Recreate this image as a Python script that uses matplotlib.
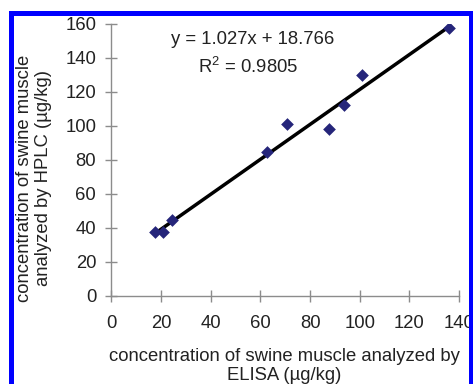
import numpy as np
import matplotlib
matplotlib.use('Agg')
from matplotlib import pyplot as plt
from matplotlib.patches import Rectangle

# swine muscle samples, ELISA vs HPLC (ug/kg)
elisa = [17.6, 20.6, 24.2, 62.6, 70.7, 87.5, 93.8, 100.9, 135.8]
hplc = [37.8, 37.5, 44.5, 84.9, 101.2, 98.2, 112.4, 130.0, 157.6]

# linear trendline from the regression
slope = 1.027
intercept = 18.766
r2 = 0.9805

xticks = [0, 20, 40, 60, 80, 100, 120, 140]
yticks = [0, 20, 40, 60, 80, 100, 120, 140, 160]

plt.rcParams['font.family'] = ['Liberation Sans', 'DejaVu Sans']
txt_color = '#222222'
axis_gray = '#8c8c8c'
fs = 13.3

fig = plt.figure(figsize=(4.73, 3.84), dpi=100)
ax = fig.add_axes([0.2357, 0.2292, 0.7347, 0.7083])

ax.scatter(elisa, hplc, marker='D', s=42, color='#25257a', zorder=3, linewidths=0)
xs = np.array([min(elisa), max(elisa)])
ax.plot(xs, slope * xs + intercept, color='black', linewidth=2.5, zorder=2)

ax.set_xlim(0, 140)
ax.set_ylim(0, 160)
ax.set_xticks(xticks)
ax.set_yticks(yticks)
ax.tick_params(direction='inout', length=8, width=1, color=axis_gray,
               labelsize=fs, labelcolor=txt_color)
ax.tick_params(axis='x', pad=10)
ax.tick_params(axis='y', pad=7)
for side in ['top', 'right']:
    ax.spines[side].set_visible(False)
for side in ['left', 'bottom']:
    ax.spines[side].set_color(axis_gray)
    ax.spines[side].set_linewidth(1)
    ax.spines[side].set_clip_on(False)

fig.text(253 / 473, 1 - 40 / 384, 'y = %.3fx + %.3f' % (slope, intercept),
         ha='center', va='center', fontsize=fs, color=txt_color)
fig.text(248 / 473, 1 - 67 / 384, '$\\mathregular{R^2}$ = %.4f' % r2,
         ha='center', va='center', fontsize=fs, color=txt_color)

fig.text(284 / 473, 1 - 366 / 384, 'concentration of swine muscle analyzed by\nELISA (\u00b5g/kg)',
         ha='center', va='center', fontsize=fs, color=txt_color, linespacing=1.1)
fig.text(34 / 473, 1 - 178 / 384, 'concentration of swine muscle\nanalyzed by HPLC (\u00b5g/kg)',
         ha='center', va='center', rotation=90, fontsize=fs, color=txt_color,
         linespacing=1.1)

# blue frame round the figure
fig.patches.append(Rectangle((10.5 / 473, -0.1), 460 / 473, 1.1 - 13.5 / 384,
                             transform=fig.transFigure, fill=False,
                             edgecolor='#0000ff', linewidth=3.6, zorder=10))

fig.savefig('out.png', dpi=100, facecolor='white')
